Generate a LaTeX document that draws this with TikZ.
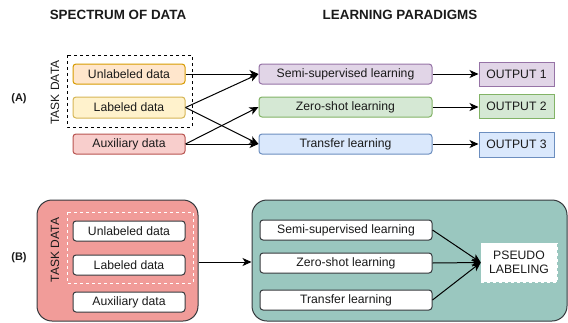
\documentclass[tikz,border=0pt]{standalone}
\usepackage{fontspec}
\setmainfont{Liberation Sans}
\usetikzlibrary{arrows.meta}
\definecolor{orF}{HTML}{FFE6CC}\definecolor{orD}{HTML}{D79B00}
\definecolor{yeF}{HTML}{FFF2CC}\definecolor{yeD}{HTML}{D6B656}
\definecolor{reF}{HTML}{F8CECC}\definecolor{reD}{HTML}{B85450}
\definecolor{puF}{HTML}{E1D5E7}\definecolor{puD}{HTML}{9673A6}
\definecolor{grF}{HTML}{D5E8D4}\definecolor{grD}{HTML}{82B366}
\definecolor{blF}{HTML}{DAE8FC}\definecolor{blD}{HTML}{6C8EBF}
\definecolor{bigR}{HTML}{F19C99}\definecolor{bigG}{HTML}{9AC7BF}
\definecolor{edgeD}{HTML}{36393D}
\definecolor{txt}{HTML}{1A1A1A}
\begin{document}
\begin{tikzpicture}[x=1pt,y=-1pt,
  every node/.style={text=txt,font=\fontsize{12.2}{14}\selectfont,inner sep=0pt},
  databox/.style={draw,line width=1pt,rounded corners=3pt,minimum width=112pt,minimum height=20pt},
  paradigm/.style={draw,line width=1pt,rounded corners=3pt,minimum width=173pt,minimum height=20pt},
  outbox/.style={draw,line width=1pt,minimum width=75pt,minimum height=24pt},
  whitebox/.style={draw=edgeD,fill=white,line width=1pt,rounded corners=3pt,minimum height=20pt},
  bigbox/.style={draw=edgeD,line width=1pt,rounded corners=15pt},
  conn/.style={draw=black,line width=1pt,-{Stealth[length=9pt,width=8pt,inset=2.5pt]}},
  title/.style={font=\fontsize{13.4}{15}\selectfont\bfseries},
  tag/.style={font=\fontsize{11}{13}\selectfont\bfseries},
  side/.style={rotate=90,font=\fontsize{12}{14}\selectfont}
]
\useasboundingbox (0,0) rectangle (568,322);
% titles
\node[title] (t1) at (118,15) {SPECTRUM OF DATA};
\node[title] (t2) at (400,15) {LEARNING PARADIGMS};
% ---------- (A) ----------
\node[tag] (tagA) at (19,99) {(A)};
\draw[line width=1pt,dash pattern=on 3pt off 3pt] (67,55) rectangle (192,127);
\node[side] (tdA) at (55,92.5) {TASK DATA};
\node[databox,fill=orF,draw=orD] (unlA) at (129,74) {Unlabeled data};
\node[databox,fill=yeF,draw=yeD,minimum height=21pt] (labA) at (129,107.5) {Labeled data};
\node[databox,fill=reF,draw=reD] (auxA) at (129,144) {Auxiliary data};
\node[paradigm,fill=puF,draw=puD] (semiA) at (345.5,74) {Semi-supervised learning};
\node[paradigm,fill=grF,draw=grD] (zeroA) at (345.5,107) {Zero-shot learning};
\node[paradigm,fill=blF,draw=blD] (transA) at (345.5,144) {Transfer learning};
\node[outbox,fill=puF,draw=puD] (out1) at (516.5,74) {OUTPUT 1};
\node[outbox,fill=grF,draw=grD] (out2) at (516.5,106) {OUTPUT 2};
\node[outbox,fill=blF,draw=blD,minimum height=25pt] (out3) at (516.5,144.5) {OUTPUT 3};
\draw[conn] (unlA.east) -- (semiA.west);
\draw[conn] (labA.east) -- (semiA.west);
\draw[conn] (labA.east) -- (transA.west);
\draw[conn] (auxA.east) -- (zeroA.west);
\draw[conn] (auxA.east) -- (transA.west);
\draw[conn] (semiA.east) -- (out1.west);
\draw[conn] (zeroA.east) -- (zeroA.east -| out2.west);
\draw[conn] (transA.east) -- (transA.east -| out3.west);
% ---------- (B) ----------
\node[tag] (tagB) at (19,258) {(B)};
\node[bigbox,fill=bigR,minimum width=161pt,minimum height=121pt] (redB) at (117.5,260.5) {};
\node[bigbox,fill=bigG,minimum width=315pt,minimum height=121pt] (grnB) at (409.5,260.5) {};
\draw[white,line width=1pt,dash pattern=on 3pt off 3pt] (67,212) rectangle (193,283);
\node[side] (tdB) at (55,250) {TASK DATA};
\node[whitebox,minimum width=112pt] (unlB) at (129,231) {Unlabeled data};
\node[whitebox,minimum width=112pt] (labB) at (129,265) {Labeled data};
\node[whitebox,minimum width=112pt] (auxB) at (129,302) {Auxiliary data};
\node[whitebox,minimum width=172pt] (semiB) at (346,230) {Semi-supervised learning};
\node[whitebox,minimum width=172pt] (zeroB) at (346,263) {Zero-shot learning};
\node[whitebox,minimum width=172pt] (transB) at (346,300) {Transfer learning};
\node[fill=white,draw=white,dashed,minimum width=76pt,minimum height=39pt,align=center] (pseudo) at (519,262.5) {PSEUDO\\LABELING};
\draw[conn] (redB.east |- 0,262) -- (grnB.west |- 0,262);
\draw[conn] (semiB.east) -- (pseudo.west);
\draw[conn] (zeroB.east) -- (pseudo.west);
\draw[conn] (transB.east) -- (pseudo.west);
\end{tikzpicture}
\end{document}
